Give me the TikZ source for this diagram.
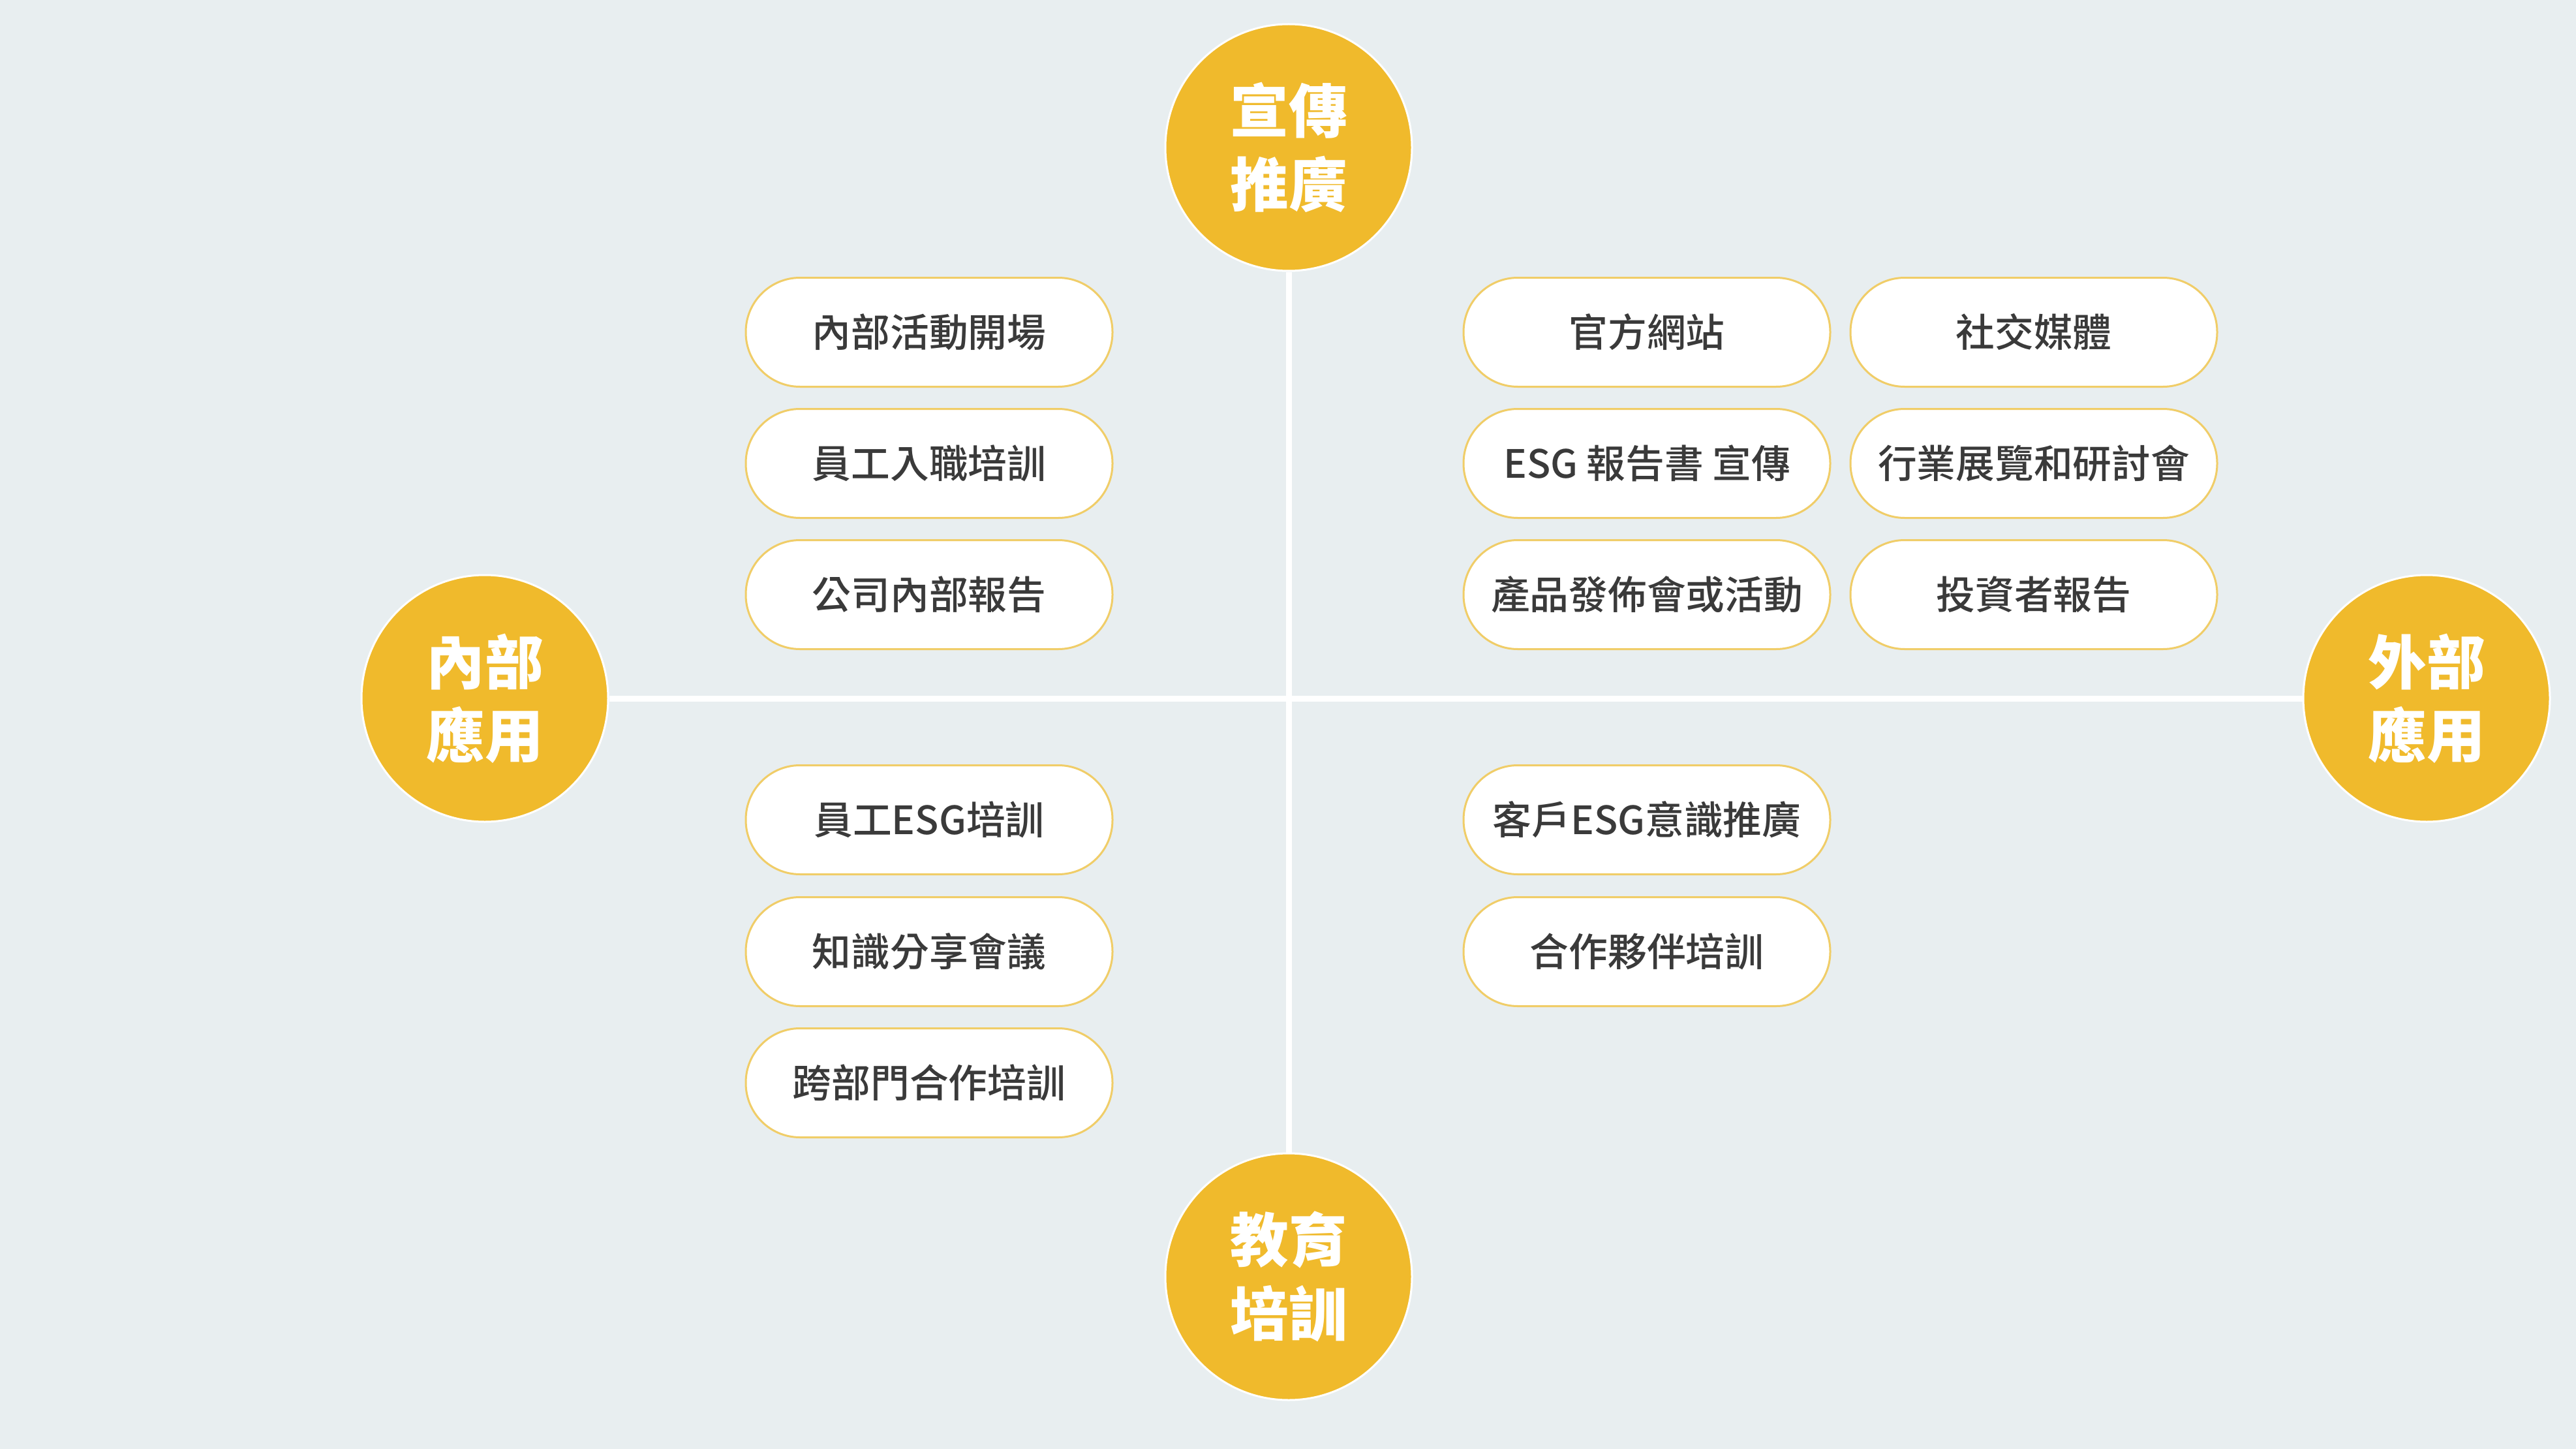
\documentclass[tikz,border=0pt]{standalone}
\usepackage{fontspec}
\setmainfont{Noto Sans CJK TC}
\newfontfamily\pillfont{Noto Sans CJK TC Medium}
\definecolor{bgc}{HTML}{E8EEF0}
\definecolor{hub}{HTML}{F0BA2C}
\definecolor{pillline}{HTML}{F0CD68}
\definecolor{txt}{HTML}{3A3A3A}
\tikzset{
  hubnode/.style={circle, fill=hub, draw=white, line width=0.03cm, minimum size=3.78cm, inner sep=0pt,
    text=white, font=\fontsize{25.5}{32}\selectfont\bfseries, align=center},
  pill/.style={rectangle, rounded corners=0.83cm, fill=white, draw=pillline, line width=0.03cm,
    minimum width=5.62cm, minimum height=1.67cm, inner sep=0pt, text=txt,
    font=\pillfont\fontsize{17}{20}\selectfont},
  axis/.style={draw=white, line width=0.09cm}
}
\begin{document}
\begin{tikzpicture}
\fill[bgc] (0,0) rectangle (39.48,-22.20);
\useasboundingbox (0,0) rectangle (39.48,-22.20);

\node[hubnode] (top) at (19.75,-2.26) {宣傳\\推廣};
\node[hubnode] (left) at (7.43,-10.70) {內部\\應用};
\node[hubnode] (right) at (37.19,-10.70) {外部\\應用};
\node[hubnode] (bottom) at (19.75,-19.56) {教育\\培訓};

\draw[axis] (left) -- (right);
\draw[axis] (top) -- (bottom);

% upper left
\node[pill] (ul1) at (14.24,-5.09) {內部活動開場};
\node[pill] (ul2) at (14.24,-7.10) {員工入職培訓};
\node[pill] (ul3) at (14.24,-9.11) {公司內部報告};
% upper right
\node[pill] (ur1) at (25.24,-5.09) {官方網站};
\node[pill] (ur2) at (25.24,-7.10) {ESG 報告書 宣傳};
\node[pill] (ur3) at (25.24,-9.11) {產品發佈會或活動};
\node[pill] (ur4) at (31.17,-5.09) {社交媒體};
\node[pill] (ur5) at (31.17,-7.10) {行業展覽和研討會};
\node[pill] (ur6) at (31.17,-9.11) {投資者報告};
% lower left
\node[pill] (ll1) at (14.24,-12.56) {員工ESG培訓};
\node[pill] (ll2) at (14.24,-14.58) {知識分享會議};
\node[pill] (ll3) at (14.24,-16.59) {跨部門合作培訓};
% lower right
\node[pill] (lr1) at (25.24,-12.56) {客戶ESG意識推廣};
\node[pill] (lr2) at (25.24,-14.58) {合作夥伴培訓};
\end{tikzpicture}
\end{document}
